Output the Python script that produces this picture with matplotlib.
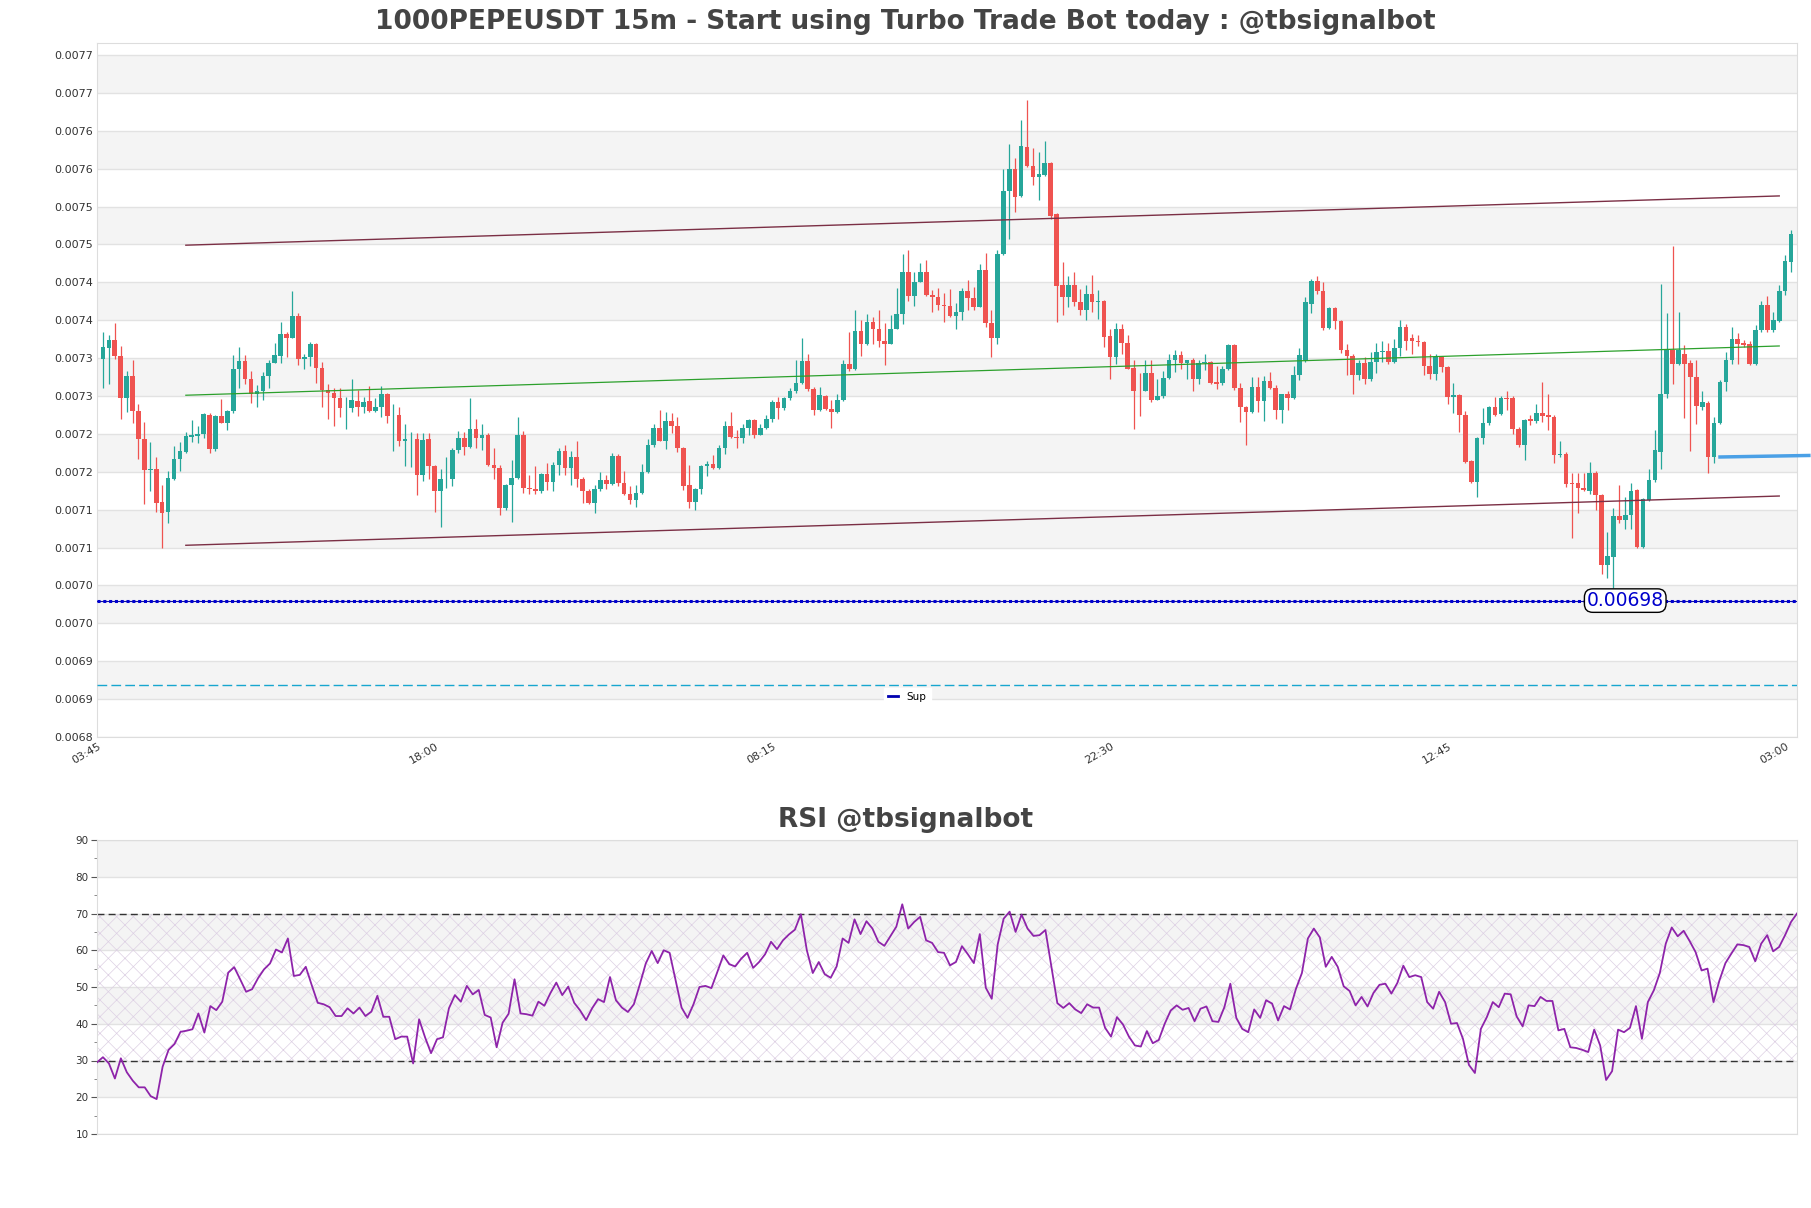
import numpy as np
import matplotlib.pyplot as plt
from matplotlib.ticker import FuncFormatter, MultipleLocator
from matplotlib.transforms import ScaledTranslation

# candle prices, in units of 1e-7 USDT
opens = [
    72990, 73130, 73240, 73030, 72480, 72770, 72300, 71930, 71520, 71530,
    71100, 70970, 71410, 71670, 71760, 71960, 71970, 72000, 72250, 71800,
    72230, 72140, 72300, 72850, 72960, 72730, 72520, 72560, 72770, 72930,
    73030, 73320, 73270, 73550, 72990, 73010, 73180, 72870, 72580, 72540,
    72480, 72350, 72340, 72440, 72360, 72430, 72300, 72350, 72530, 72250,
    72250, 71910, 71930, 71930, 71460, 71930, 71570, 71250, 71400, 71410,
    71790, 71950, 71830, 72070, 71940, 71990, 71590, 71550, 71020, 71320,
    71420, 71980, 71280, 71270, 71240, 71470, 71370, 71590, 71780, 71550,
    71700, 71410, 71250, 71090, 71270, 71390, 71340, 71710, 71350, 71210,
    71130, 71220, 71500, 71850, 72080, 71910, 72170, 72100, 71810, 71320,
    71100, 71270, 71570, 71600, 71550, 71820, 72100, 71960, 71940, 72080,
    72180, 71990, 72080, 72200, 72420, 72340, 72470, 72570, 72670, 72960,
    72590, 72310, 72500, 72330, 72290, 72450, 72920, 72850, 73360, 73190,
    73470, 73390, 73220, 73190, 73390, 73580, 74130, 73820, 74010, 74130,
    73830, 73800, 73700, 73690, 73550, 73610, 73880, 73790, 73680, 74160,
    73460, 73260, 74370, 75210, 75490, 75140, 75790, 75530, 75390, 75420,
    75570, 74900, 73960, 73800, 73960, 73740, 73640, 73850, 73740, 73760,
    73290, 73020, 73390, 73200, 72870, 72570, 72570, 72800, 72450, 72500,
    72740, 72980, 73040, 72940, 72970, 72730, 72930, 72950, 72680, 72670,
    72850, 73170, 72600, 72360, 72290, 72620, 72430, 72700, 72600, 72310,
    72530, 72470, 72780, 72980, 73720, 74020, 73880, 73400, 73660, 73490,
    73110, 73030, 72780, 72940, 72720, 72950, 73080, 73100, 72950, 73130,
    73410, 73260, 73230, 73210, 72890, 72790, 73020, 72880, 72490, 72510,
    72250, 71640, 71370, 71940, 72140, 72350, 72260, 72470, 72470, 72070,
    71850, 72190, 72170, 72270, 72250, 72220, 71720, 71740, 71350, 71350,
    71290, 71250, 71490, 71190, 70270, 70380, 70910, 70870, 70930, 71260,
    70510, 71130, 71390, 71760, 72530, 73110, 72920, 73060, 72940, 72750,
    72360, 72410, 71690, 72150, 72690, 72980, 73250, 73200, 73190, 72920,
    73370, 73700, 73370, 73490, 73880, 74270,
]
highs = [
    73350, 73300, 73460, 73160, 72830, 72970, 72400, 72160, 71890, 71700,
    71320, 71510, 71840, 71890, 72030, 72180, 72100, 72280, 72270, 72250,
    72460, 72310, 73040, 73150, 73040, 72830, 72640, 72820, 72970, 73200,
    73470, 73340, 73890, 73600, 73050, 73210, 73200, 72950, 72660, 72600,
    72610, 72490, 72720, 72580, 72490, 72630, 72480, 72630, 72540, 72390,
    72350, 72130, 72020, 72010, 72010, 72010, 71590, 71530, 71690, 71810,
    72040, 72020, 72470, 72200, 72130, 72010, 71810, 71590, 71340, 71660,
    72220, 72040, 71460, 71570, 71490, 71610, 71630, 71820, 71850, 71780,
    71910, 71430, 71270, 71320, 71500, 71460, 71750, 71740, 71510, 71310,
    71320, 71600, 71930, 72130, 72310, 72290, 72270, 72220, 71830, 71590,
    71290, 71590, 71640, 71720, 71850, 72170, 72290, 72050, 72130, 72190,
    72200, 72130, 72250, 72450, 72490, 72490, 72610, 72970, 73260, 73050,
    72620, 72620, 72510, 72450, 72530, 72970, 73340, 73630, 73500, 73580,
    73540, 73640, 73460, 73570, 73920, 74380, 74430, 74130, 74250, 74300,
    73900, 73930, 73860, 73910, 73730, 73920, 74030, 73940, 74240, 74390,
    73630, 74430, 75500, 75820, 75640, 76140, 76400, 75770, 75720, 75860,
    75590, 74920, 74270, 74080, 74130, 73910, 73960, 74100, 73900, 73770,
    73390, 73460, 73450, 73300, 72980, 72800, 72980, 72970, 72730, 72830,
    73060, 73110, 73100, 72980, 73000, 72980, 73060, 72960, 72890, 72890,
    73190, 73190, 72670, 72370, 72750, 72750, 72770, 72810, 72640, 72530,
    72570, 72900, 73130, 73800, 74040, 74080, 74010, 73680, 73680, 73500,
    73190, 73060, 72980, 73020, 73080, 73200, 73230, 73200, 73250, 73500,
    73450, 73320, 73300, 73230, 73060, 73060, 73030, 72900, 72670, 72530,
    72300, 71650, 71960, 72340, 72370, 72490, 72500, 72560, 72500, 72090,
    72190, 72250, 72400, 72680, 72530, 72250, 71900, 71760, 71480, 71480,
    71480, 71630, 71510, 71210, 70700, 71020, 71320, 71170, 71350, 71270,
    71150, 71540, 72050, 73980, 73600, 74480, 73610, 73170, 72980, 72980,
    72560, 72440, 72220, 72710, 73080, 73410, 73330, 73240, 73220, 73440,
    73760, 73820, 73610, 73960, 74360, 74690,
]
lows = [
    72600, 72660, 72990, 72190, 72290, 72140, 71670, 71080, 71250, 70970,
    70500, 70830, 71390, 71510, 71750, 71890, 71880, 71940, 71750, 71780,
    72140, 72050, 72270, 72600, 72660, 72410, 72360, 72450, 72600, 72930,
    72940, 73010, 73270, 72910, 72850, 72900, 72670, 72360, 72190, 72110,
    72220, 72060, 72290, 72240, 72270, 72290, 72290, 72220, 72140, 71780,
    71840, 71580, 71560, 71190, 71380, 71410, 70970, 70770, 71280, 71310,
    71750, 71720, 71820, 71810, 71790, 71570, 71400, 70930, 71000, 70840,
    71410, 71220, 71210, 71210, 71220, 71260, 71250, 71460, 71460, 71320,
    71300, 71090, 71070, 70950, 71250, 71270, 71320, 71310, 71190, 71080,
    71030, 71210, 71490, 71830, 71900, 71800, 72010, 71760, 71260, 71020,
    70990, 71210, 71440, 71530, 71530, 71730, 71950, 71820, 71880, 71980,
    71940, 71980, 72060, 72160, 72200, 72320, 72450, 72540, 72660, 72570,
    72250, 72300, 72310, 72080, 72280, 72440, 72830, 72840, 73030, 73170,
    73190, 73140, 72910, 73180, 73380, 73450, 73760, 73690, 74000, 73820,
    73610, 73640, 73480, 73540, 73380, 73500, 73640, 73640, 73670, 73410,
    73020, 73190, 74360, 74570, 74930, 75130, 75520, 75280, 75080, 75400,
    74830, 73480, 73570, 73670, 73690, 73570, 73500, 73610, 73510, 73150,
    72730, 72920, 73060, 72850, 72070, 72230, 72560, 72420, 72450, 72480,
    72730, 72810, 72860, 72720, 72570, 72660, 72840, 72660, 72590, 72640,
    72840, 72580, 72160, 71850, 72280, 72290, 72170, 72590, 72190, 72150,
    72310, 72460, 72710, 72950, 73590, 73850, 73370, 73380, 73380, 73070,
    72780, 72530, 72710, 72660, 72700, 72800, 72950, 72920, 72940, 73030,
    73110, 73060, 73160, 72780, 72730, 72710, 72820, 72390, 72280, 72030,
    71610, 71350, 71170, 71870, 72120, 72240, 72250, 72310, 72000, 71830,
    71650, 72120, 72150, 72160, 72050, 71610, 71700, 71300, 70620, 70950,
    71240, 71210, 70990, 70150, 70100, 69960, 70820, 70750, 70740, 70500,
    70500, 71110, 71370, 71530, 72480, 72660, 72910, 72210, 71780, 72130,
    72310, 71490, 71620, 72130, 72570, 72920, 72920, 73150, 72910, 72910,
    73350, 73350, 73350, 73470, 73830, 74140,
]
closes = [
    73140, 73240, 73030, 72480, 72770, 72300, 71930, 71520, 71530, 71090,
    70960, 71420, 71670, 71780, 71970, 71980, 72000, 72260, 71800, 72230,
    72140, 72300, 72850, 72960, 72730, 72520, 72560, 72770, 72940, 73040,
    73320, 73270, 73550, 72990, 73010, 73180, 72870, 72580, 72540, 72480,
    72340, 72350, 72450, 72360, 72420, 72300, 72350, 72530, 72240, 72250,
    71910, 71930, 71930, 71460, 71920, 71570, 71250, 71400, 71410, 71790,
    71950, 71830, 72070, 71940, 71990, 71590, 71550, 71020, 71320, 71420,
    71980, 71280, 71270, 71240, 71470, 71370, 71590, 71780, 71550, 71700,
    71410, 71250, 71090, 71270, 71390, 71340, 71710, 71350, 71210, 71130,
    71220, 71500, 71850, 72080, 71910, 72170, 72100, 71810, 71310, 71100,
    71270, 71570, 71600, 71550, 71820, 72100, 71960, 71940, 72080, 72180,
    71990, 72080, 72200, 72420, 72340, 72470, 72570, 72670, 72960, 72590,
    72310, 72510, 72330, 72290, 72450, 72920, 72850, 73360, 73190, 73470,
    73390, 73220, 73190, 73390, 73580, 74130, 73820, 74010, 74130, 73830,
    73800, 73700, 73690, 73550, 73610, 73880, 73790, 73680, 74160, 73460,
    73270, 74370, 75210, 75490, 75120, 75800, 75530, 75390, 75430, 75570,
    74880, 73950, 73800, 73960, 73740, 73640, 73850, 73740, 73760, 73280,
    73020, 73390, 73200, 72860, 72570, 72560, 72800, 72450, 72500, 72740,
    72980, 73040, 72940, 72970, 72730, 72930, 72950, 72670, 72660, 72850,
    73170, 72600, 72360, 72290, 72620, 72430, 72700, 72600, 72310, 72530,
    72470, 72780, 73040, 73740, 74020, 73880, 73400, 73660, 73490, 73110,
    73030, 72780, 72940, 72720, 72950, 73080, 73100, 72950, 73130, 73410,
    73230, 73230, 73210, 72890, 72790, 73020, 72880, 72490, 72510, 72250,
    71630, 71370, 71950, 72150, 72360, 72250, 72480, 72460, 72060, 71850,
    72180, 72170, 72270, 72230, 72220, 71720, 71740, 71340, 71340, 71290,
    71260, 71480, 71190, 70270, 70390, 70920, 70870, 70930, 71250, 70510,
    71140, 71390, 71790, 72530, 73110, 72920, 73110, 72920, 72750, 72370,
    72420, 71690, 72150, 72690, 72980, 73250, 73190, 73170, 72920, 73370,
    73700, 73370, 73500, 73880, 74280, 74640,
]
PRICE_UNIT = 1e-7

rsi = [
    29.5, 30.9, 29.2, 25.1, 30.6, 26.8, 24.5, 22.7, 22.7, 20.3,
    19.5, 28.3, 32.9, 34.5, 37.8, 38.1, 38.5, 42.8, 37.6, 44.8,
    43.7, 46.0, 53.9, 55.4, 52.1, 48.7, 49.4, 52.4, 54.8, 56.4,
    60.2, 59.4, 63.2, 53.0, 53.3, 55.5, 50.5, 45.7, 45.3, 44.5,
    42.1, 42.1, 44.2, 42.8, 44.4, 42.1, 43.3, 47.6, 41.9, 41.9,
    35.8, 36.5, 36.5, 29.2, 41.2, 36.3, 32.0, 35.8, 36.3, 44.2,
    47.8, 46.0, 50.3, 48.0, 49.2, 42.4, 41.7, 33.6, 40.3, 42.7,
    52.1, 42.8, 42.6, 42.2, 46.0, 44.9, 48.3, 51.2, 47.8, 50.1,
    45.7, 43.6, 41.0, 44.2, 46.7,
    45.9, 52.7, 46.4, 44.4, 43.2, 45.3, 50.7, 56.4, 59.8, 56.5,
    60.0, 59.3, 51.8, 44.4, 41.6, 45.3, 50.0, 50.3, 49.7, 54.1,
    58.6, 56.2, 55.6, 57.7, 59.3, 55.2, 56.8, 58.9, 62.3, 60.3,
    62.7, 64.3, 65.6, 69.8, 60.0, 53.8, 56.8, 53.5, 52.5, 55.6,
    63.2, 62.0, 68.4, 64.4, 67.9, 65.9, 62.3, 61.2, 63.8, 66.4,
    72.5, 65.9, 67.7, 69.1, 62.7, 62.0, 59.5, 59.3, 55.9, 56.8,
    61.1, 58.9, 56.5, 64.4, 49.8, 46.8, 61.6, 68.6, 70.5, 65.0,
    69.7, 65.9, 63.9, 64.1, 65.5, 55.5, 45.6, 44.3, 45.6, 43.9,
    42.9, 45.3, 44.4, 44.4, 38.9, 36.5, 41.8, 39.8, 36.5, 34.1,
    33.8, 38.0, 34.7, 35.6, 40.0, 43.6, 45.0, 43.8, 44.3, 40.7,
    44.1,
    44.7, 40.7, 40.5, 44.5, 50.9, 41.6, 38.6, 37.7, 43.9, 41.6,
    46.4, 45.5, 40.9, 44.8, 43.9, 49.5, 53.8, 63.2, 65.9, 63.5,
    55.5, 58.2, 55.5, 50.2, 48.9, 45.0, 47.3, 44.7, 48.4, 50.6,
    50.9, 48.2, 51.1, 55.8, 52.7, 53.2, 52.7, 45.9, 44.1, 48.7,
    45.9, 40.0, 40.2, 35.9, 28.8, 26.6, 38.6, 41.8, 45.9, 44.5,
    48.2, 48.0, 42.0, 39.3, 45.0, 44.8, 47.3, 46.2, 46.2, 38.2,
    38.6, 33.6, 33.4, 32.9, 32.3, 38.4, 34.1, 24.7, 27.1, 38.4,
    37.7, 38.9, 44.8, 35.9, 45.9, 49.1, 53.8, 61.8, 66.2, 63.8,
    65.3, 62.5, 59.5, 54.5, 55.0, 45.9, 51.8, 56.5, 59.1, 61.6,
    61.4, 60.9, 57.0, 61.8, 64.1, 59.7, 60.9, 64.1, 67.7, 70.0,
]

tick_pos = [0, 57, 114, 171, 228, 285]
tick_labels = ["03:45", "18:00", "08:15", "22:30", "12:45", "03:00"]

# channel lines (start / end candle index and price)
channel_x = [14, 283]
channel_upper = [0.007449, 0.007514]
channel_mid = [0.007251, 0.007316]
channel_lower = [0.007053, 0.007118]

support = 0.00698
support_label_x = 257
low_level = 0.006869
entry_x = [273, 288]
entry_y = [0.0071695, 0.0071715]

o = np.array(opens) * PRICE_UNIT
h = np.array(highs) * PRICE_UNIT
l = np.array(lows) * PRICE_UNIT
c = np.array(closes) * PRICE_UNIT
x = np.arange(len(c))

GREEN = "#26a69a"
RED = "#ef5350"
BAND = "#f4f4f4"
GRID = "#e2e2e2"
SPINE = "#dddddd"
TXT = "#444444"

plt.rcParams["hatch.linewidth"] = 0.5

fig = plt.figure(figsize=(18.11, 12.08), dpi=100)
ax = fig.add_axes([97 / 1811, 1 - 737 / 1208, 1700 / 1811, 694 / 1208])
ax2 = fig.add_axes([97 / 1811, 1 - 1134 / 1208, 1700 / 1811, 294 / 1208])

# ---- price panel ----
yt = np.linspace(0.0068, 0.0077, 19)
for k in range(len(yt) - 1):
    if k % 2 == 1:
        ax.axhspan(yt[k], yt[k + 1], color=BAND, zorder=0, lw=0)
for v in yt:
    ax.axhline(v, color=GRID, lw=1, zorder=0.5)

up = c >= o
cols = np.where(up, GREEN, RED)
ax.vlines(x, l, h, colors=cols, lw=0.9, zorder=2)
body_h = np.maximum(np.abs(c - o), 0.4e-6)
ax.bar(x, body_h, bottom=np.minimum(o, c), width=0.78, color=cols, lw=0, zorder=3)

ax.plot(channel_x, channel_upper, color="#7b2f45", lw=1, zorder=4)
ax.plot(channel_x, channel_lower, color="#7b2f45", lw=1, zorder=4)
ax.plot(channel_x, channel_mid, color="#2ca02c", lw=0.9, zorder=4)

ax.axhline(support, color="#1010a0", lw=0.8, zorder=4, label="Sup")
ax.axhline(support, color="#0000d0", lw=2.2, ls=(0, (1, 0.9)), zorder=4)
ax.axhline(low_level, color="#17a6cf", lw=1, ls=(0, (7, 3)), zorder=4)
ax.plot(entry_x, entry_y, color="#4aa0e6", lw=2.5, zorder=5, clip_on=False)

ax.text(support_label_x, support, "0.00698", color="#0000cc", fontsize=13.5,
        ha="center", va="center", zorder=6,
        bbox=dict(boxstyle="round,pad=0.12,rounding_size=0.45", fc="white", ec="black", lw=1))

ax.set_xlim(-1, 286)
ax.set_ylim(0.0068, 0.0077158)
ax.set_yticks(yt)
ax.yaxis.set_major_formatter(FuncFormatter(lambda v, _: f"{v + 1e-9:.4f}"))
ax.set_xticks(tick_pos)
ax.set_xticklabels(tick_labels, rotation=30, ha="right")
off = ScaledTranslation(-17 / 100, 0, fig.dpi_scale_trans)
for lab in ax.get_xticklabels():
    lab.set_transform(lab.get_transform() + off)
ax.tick_params(axis="both", length=0, labelsize=8, colors="#333333", pad=3)
for s in ax.spines.values():
    s.set_color(SPINE)

leg = ax.legend(loc="center", bbox_to_anchor=(0.4765, 0.0576), fontsize=7.5,
                handlelength=1.0, frameon=True, fancybox=False, borderpad=0.4)
leg.get_frame().set_edgecolor("white")
leg.get_frame().set_facecolor("white")
leg.get_frame().set_alpha(1)
for hl in leg.get_lines():
    hl.set_linewidth(2)
    hl.set_color("#0000b0")

fig.text(0.5, 1 - 22 / 1208, "1000PEPEUSDT 15m - Start using Turbo Trade Bot today : @tbsignalbot",
         ha="center", va="center", fontsize=19, fontweight="bold", color=TXT)

# ---- RSI panel ----
rt = np.arange(10, 91, 10)
for k in range(len(rt) - 1):
    if k % 2 == 1:
        ax2.axhspan(rt[k], rt[k + 1], color=BAND, zorder=0, lw=0)
for v in rt:
    ax2.axhline(v, color=GRID, lw=1, zorder=0.5)
ax2.fill_between([0, len(rsi) - 1], 30, 70, facecolor="none", edgecolor="#ddd0e4",
                 hatch="xx", lw=0, zorder=1)
ax2.axhline(70, color="#333333", lw=1, ls=(0, (5, 3)), zorder=2)
ax2.axhline(30, color="#333333", lw=1, ls=(0, (5, 3)), zorder=2)
ax2.plot(np.arange(len(rsi)), rsi, color="#8e24aa", lw=1.3, zorder=3)

ax2.set_xlim(0, len(rsi) - 1)
ax2.set_ylim(10, 90)
ax2.set_yticks(rt)
ax2.yaxis.set_minor_locator(MultipleLocator(5))
ax2.set_xticks([])
ax2.tick_params(axis="y", which="major", length=4, labelsize=7.5, colors="#555555",
                labelcolor="#333333", pad=2)
ax2.tick_params(axis="y", which="minor", length=2, colors="#777777")
for s in ax2.spines.values():
    s.set_color(SPINE)

fig.text(0.5, 1 - 820 / 1208, "RSI @tbsignalbot", ha="center", va="center",
         fontsize=19, fontweight="bold", color=TXT)

fig.savefig("out.png", dpi=100)
